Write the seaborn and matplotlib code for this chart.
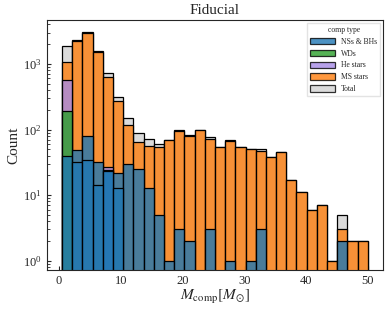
import numpy as np
import pandas as pd
import matplotlib
matplotlib.use('Agg')
import matplotlib.pyplot as plt
import seaborn as sns
from matplotlib.patches import Patch

# bin edges of the companion mass histogram (Msun)
edges = list(np.linspace(0.5, 50, 31))

# counts per bin
bh_counts = [40, 48, 80, 32, 24, 22, 30, 25, 13, 5, 1, 3, 2, 0, 3,
             0, 1, 0, 1, 3, 0, 0, 0, 0, 0, 0, 0, 2, 0, 0]
ns_counts = [0, 32, 34, 14, 23, 13, 0, 0, 0, 0, 0, 0, 0, 0, 0,
             0, 0, 0, 0, 0, 0, 0, 0, 0, 0, 0, 0, 0, 0, 0]
wd_counts = [189, 0, 0, 0, 0, 0, 0, 0, 0, 0, 0, 0, 0, 0, 0,
             0, 0, 0, 0, 0, 0, 0, 0, 0, 0, 0, 0, 0, 0, 0]
he_counts = [562, 0, 0, 0, 27, 0, 0, 0, 0, 0, 0, 0, 0, 0, 0,
             0, 0, 0, 0, 0, 0, 0, 0, 0, 0, 0, 0, 0, 0, 0]
ms_counts = [1057, 2240, 2925, 1534, 638, 272, 116, 64, 57, 55, 68, 96, 80, 97, 72,
             55, 67, 55, 50, 47, 38, 46, 17, 11, 6, 7, 1, 3, 2, 2]
total_counts = [1875, 2320, 3040, 1580, 719, 310, 148, 88, 71, 61, 69, 100, 82, 97, 76,
                55, 68, 55, 51, 50, 38, 46, 17, 11, 6, 7, 1, 5, 2, 2]

types = ['NSs', 'BHs', 'WDs', 'He stars', 'MS stars', 'Total']
colors = {'NSs': 'tab:blue', 'BHs': 'tab:blue', 'WDs': 'tab:green',
          'He stars': '#a68be6', 'MS stars': 'tab:orange', 'Total': 'lightgray'}

centers = 0.5 * (np.array(edges[:-1]) + np.array(edges[1:]))
rows = []
for name, counts in zip(types, [ns_counts, bh_counts, wd_counts, he_counts,
                                ms_counts, total_counts]):
    for m, c in zip(centers, counts):
        if c > 0:
            rows.append({'m_comp': m, 'n': c, 'comp type': name})
df = pd.DataFrame(rows)

sns.set_style('ticks')
plt.rcParams['font.family'] = ['Liberation Serif', 'DejaVu Serif']
plt.rcParams['mathtext.fontset'] = 'stix'
plt.rcParams['xtick.direction'] = 'in'
plt.rcParams['ytick.direction'] = 'in'

fig, ax = plt.subplots(figsize=(3.89, 3.11), dpi=100)
fig.subplots_adjust(left=0.12, right=0.985, top=0.936, bottom=0.132)

sns.histplot(data=df, x='m_comp', weights='n', hue='comp type', hue_order=types,
             palette=colors, bins=edges, multiple='layer', alpha=0.8,
             edgecolor='black', linewidth=0.9, legend=False, ax=ax)
ax.set_yscale('log')

ax.set_ylim(0.72, 4700)
ax.set_xlim(-1.975, 52.475)
ax.set_xticks([0, 10, 20, 30, 40, 50])
ax.tick_params(labelsize=9, length=3)
ax.tick_params(which='minor', length=1.8)
ax.set_xlabel(r'$M_{\rm comp} [M_{\odot}]$', fontsize=11, labelpad=1)
ax.set_ylabel('Count', fontsize=11, labelpad=2)
ax.set_title('Fiducial', fontsize=11, pad=4)

leg_names = ['NSs & BHs', 'WDs', 'He stars', 'MS stars', 'Total']
leg_cols = ['tab:blue', 'tab:green', '#a68be6', 'tab:orange', 'lightgray']
handles = [Patch(facecolor=c, edgecolor='black', alpha=0.8, linewidth=0.9) for c in leg_cols]
leg = ax.legend(handles, leg_names, title='comp type', loc='upper right',
                fontsize=5.5, title_fontsize=5.5, fancybox=False,
                borderaxespad=0.4, handlelength=3.2, handleheight=0.9)
leg.get_frame().set_edgecolor('#dddddd')

plt.savefig('out.png')
